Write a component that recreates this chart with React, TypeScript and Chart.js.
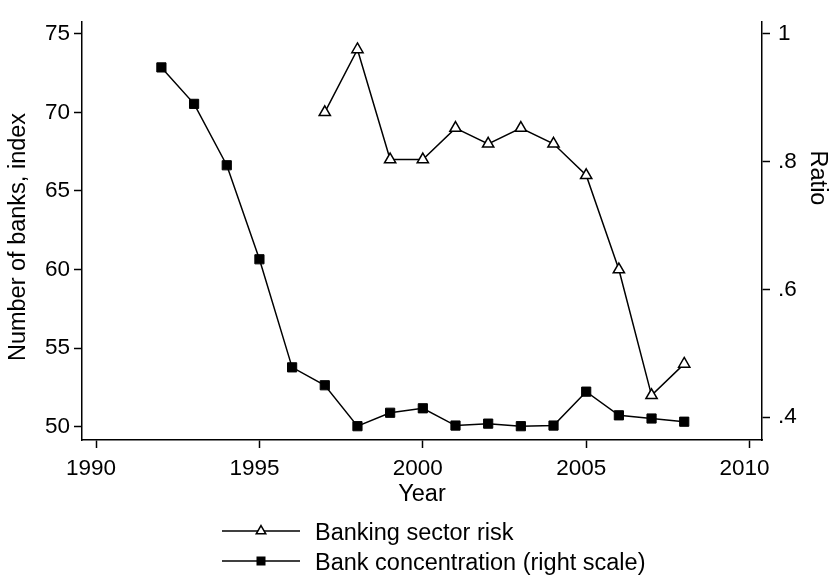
import React, { useEffect, useRef } from 'react';
import { Chart, registerables } from 'chart.js';

Chart.register(...registerables);

const concentrationYears = [1992, 1993, 1994, 1995, 1996, 1997, 1998, 1999, 2000, 2001, 2002, 2003, 2004, 2005, 2006, 2007, 2008];
const concentration = [0.947, 0.890, 0.794, 0.647, 0.478, 0.450, 0.386, 0.407, 0.414, 0.387, 0.390, 0.386, 0.387, 0.440, 0.403, 0.398, 0.393];
const riskYears = [1997, 1998, 1999, 2000, 2001, 2002, 2003, 2004, 2005, 2006, 2007, 2008];
const risk = [70, 74, 67, 67, 69, 68, 69, 68, 66, 60, 52, 54];
const xTicks = [1990, 1995, 2000, 2005, 2010];
const leftTicks = [50, 55, 60, 65, 70, 75];
const rightTicks = [0.4, 0.6, 0.8, 1];
const rightTickLabels = ['.4', '.6', '.8', '1'];
const seriesLabels = ['Banking sector risk', 'Bank concentration (right scale)'];
const xTitle = 'Year';
const leftTitle = 'Number of banks, index';
const rightTitle = 'Ratio';

const FAMILY = '"Liberation Sans", Arial, Helvetica, sans-serif';
const tickFont = { family: FAMILY, size: 22.5 };
const titleFont = { family: FAMILY, size: 23.5 };

const extrasPlugin = {
  id: 'extras',
  afterDraw(chart: any) {
    const ctx = chart.ctx as CanvasRenderingContext2D;
    // axis titles (vertical)
    ctx.save();
    ctx.fillStyle = '#000';
    ctx.font = `23.5px ${FAMILY}`;
    ctx.textAlign = 'center';
    ctx.textBaseline = 'middle';
    ctx.translate(817, 178);
    ctx.rotate(Math.PI / 2);
    ctx.fillText(rightTitle, 0, 0);
    ctx.restore();

    ctx.save();
    ctx.fillStyle = '#000';
    ctx.font = `23.5px ${FAMILY}`;
    ctx.textAlign = 'center';
    ctx.textBaseline = 'middle';
    ctx.translate(19, 237);
    ctx.rotate(-Math.PI / 2);
    ctx.fillText(leftTitle, 0, 0);
    ctx.restore();

    // legend
    ctx.save();
    const rows = [
      { y: 531, base: 540, kind: 'tri' },
      { y: 561, base: 570, kind: 'rect' },
    ];
    rows.forEach((r, i) => {
      ctx.strokeStyle = '#000';
      ctx.lineWidth = 1.5;
      ctx.beginPath();
      ctx.moveTo(222, r.y);
      ctx.lineTo(300, r.y);
      ctx.stroke();
      const cx = 261;
      if (r.kind === 'tri') {
        const rad = 5.5;
        ctx.beginPath();
        let a = 0;
        ctx.moveTo(cx + Math.sin(a) * rad, r.y - Math.cos(a) * rad);
        a += (2 * Math.PI) / 3;
        ctx.lineTo(cx + Math.sin(a) * rad, r.y - Math.cos(a) * rad);
        a += (2 * Math.PI) / 3;
        ctx.lineTo(cx + Math.sin(a) * rad, r.y - Math.cos(a) * rad);
        ctx.closePath();
        ctx.fillStyle = '#fff';
        ctx.fill();
        ctx.stroke();
      } else {
        ctx.fillStyle = '#000';
        ctx.fillRect(cx - 4.5, r.y - 4.5, 9, 9);
      }
      ctx.fillStyle = '#000';
      ctx.font = `23.5px ${FAMILY}`;
      ctx.textAlign = 'left';
      ctx.textBaseline = 'alphabetic';
      ctx.fillText(seriesLabels[i], 315, r.base);
    });
    ctx.restore();
  },
};

export default function App() {
  const ref = useRef<HTMLCanvasElement>(null);

  useEffect(() => {
    if (!ref.current) return;
    const axisCommon = {
      grid: { drawOnChartArea: false, tickLength: 8, tickColor: '#000', tickWidth: 1.5 },
      border: { color: '#000', width: 1.5 },
    };
    const chart = new Chart(ref.current, {
      type: 'line',
      data: {
        datasets: [
          {
            label: seriesLabels[0],
            data: riskYears.map((x, i) => ({ x, y: risk[i] })),
            yAxisID: 'y',
            borderColor: '#000',
            borderWidth: 1.5,
            pointStyle: 'triangle',
            pointRadius: 6.5,
            pointBackgroundColor: '#fff',
            pointBorderColor: '#000',
            pointBorderWidth: 1.5,
            tension: 0,
            fill: false,
          },
          {
            label: seriesLabels[1],
            data: concentrationYears.map((x, i) => ({ x, y: concentration[i] })),
            yAxisID: 'y1',
            borderColor: '#000',
            borderWidth: 1.5,
            pointStyle: 'rect',
            pointRadius: 6.5,
            pointBackgroundColor: '#000',
            pointBorderColor: '#000',
            pointBorderWidth: 1,
            tension: 0,
            fill: false,
          },
        ],
      },
      options: {
        responsive: false,
        animation: false,
        layout: { padding: { top: 12, bottom: 56, left: 0, right: 0 } },
        plugins: { legend: { display: false }, tooltip: { enabled: false } },
        scales: {
          x: {
            type: 'linear',
            min: 1989.57,
            max: 2010.38,
            afterBuildTicks: (s: any) => {
              s.ticks = xTicks.map((v) => ({ value: v }));
            },
            afterFit: (s: any) => {
              s.height = 80;
            },
            ticks: {
              callback: (v: any) => String(v),
              font: tickFont,
              color: '#000',
              padding: 7,
              labelOffset: -5,
              maxRotation: 0,
              autoSkip: false,
            },
            title: { display: true, text: xTitle, font: titleFont, color: '#000', padding: { top: 0, bottom: 11 } },
            ...axisCommon,
          },
          y: {
            type: 'linear',
            position: 'left',
            min: 49.16,
            max: 75.78,
            afterBuildTicks: (s: any) => {
              s.ticks = leftTicks.map((v) => ({ value: v }));
            },
            afterFit: (s: any) => {
              s.width = 82;
            },
            ticks: { font: tickFont, color: '#000', padding: 4, callback: (v: any) => String(v) },
            ...axisCommon,
          },
          y1: {
            type: 'linear',
            position: 'right',
            min: 0.3644,
            max: 1.0188,
            afterBuildTicks: (s: any) => {
              s.ticks = rightTicks.map((v) => ({ value: v }));
            },
            afterFit: (s: any) => {
              s.width = 69;
            },
            ticks: {
              font: tickFont,
              color: '#000',
              padding: 8,
              callback: (v: any) => {
                const i = rightTicks.findIndex((t) => Math.abs(t - v) < 1e-6);
                return i >= 0 ? rightTickLabels[i] : '';
              },
            },
            ...axisCommon,
          },
        },
      },
      plugins: [extrasPlugin],
    } as any);
    return () => chart.destroy();
  }, []);

  return (
    <div style={{ position: 'absolute', left: 0, top: 0, width: 831, height: 576, background: '#fff' }}>
      <canvas ref={ref} width={831} height={576} style={{ display: 'block' }} />
    </div>
  );
}
